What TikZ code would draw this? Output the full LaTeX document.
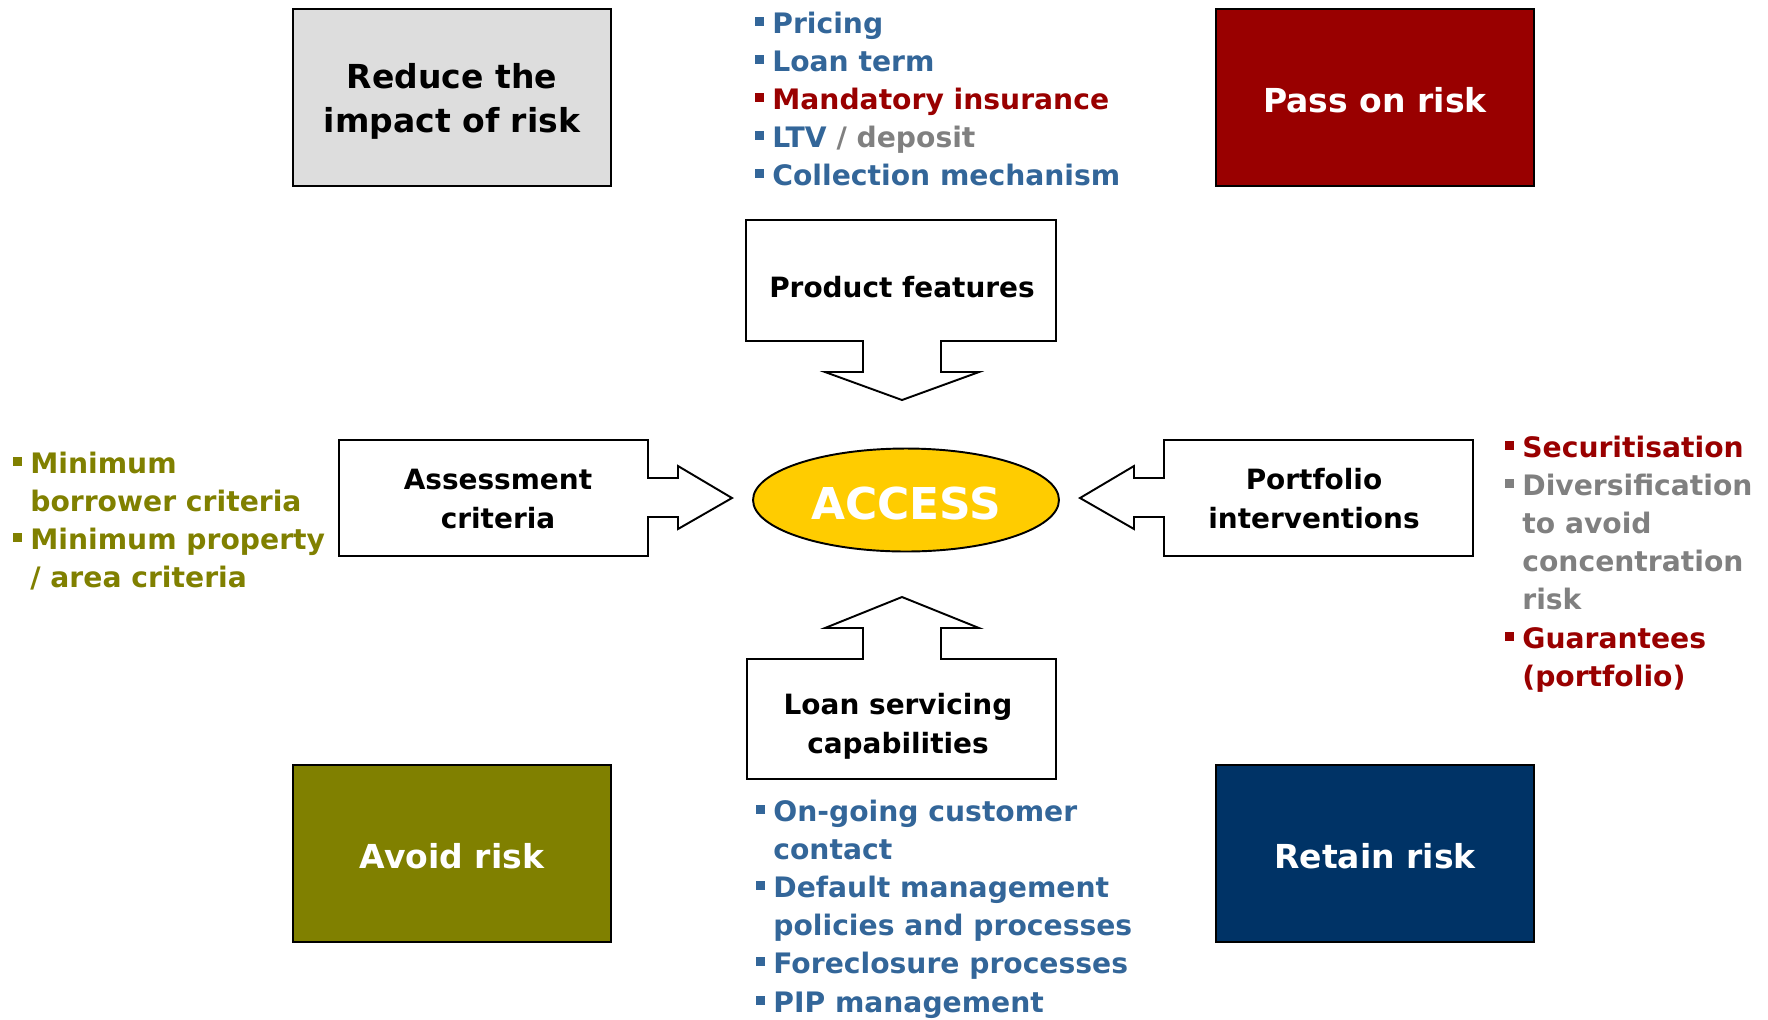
\documentclass[tikz,border=0pt]{standalone}
\usepackage{fontspec}
\setmainfont{DejaVu Sans}
\usetikzlibrary{shapes.geometric}
\definecolor{txtblue}{RGB}{51,102,153}
\definecolor{darkred}{RGB}{153,0,0}
\definecolor{midgray}{RGB}{128,128,128}
\definecolor{olive}{RGB}{128,128,0}
\definecolor{navy}{RGB}{0,51,102}
\definecolor{lightgray}{RGB}{221,221,221}
\definecolor{gold}{RGB}{255,204,0}
% square bullet, then the item text
\newcommand{\itm}[1]{\makebox[0.34cm][l]{\textcolor{#1}{\rule[0.15cm]{0.18cm}{0.18cm}}}}
\newcommand{\cnt}{\hspace*{0.34cm}}
\newcommand{\listfont}{\fontsize{16.05pt}{21.75pt}\selectfont\bfseries}
\newcommand{\boxfont}{\fontsize{15.9pt}{22.3pt}\selectfont\bfseries}
\newcommand{\bigfont}{\fontsize{18.8pt}{25.6pt}\selectfont\bfseries}
\tikzset{
  riskbox/.style={draw=black, line width=0.9pt},
  callout/.style={draw=black, line width=1.1pt, fill=white, line join=miter},
  boxlabel/.style={anchor=base, inner sep=0pt, font=\boxfont},
  biglabel/.style={anchor=base, inner sep=0pt, font=\bigfont},
  bullets/.style={anchor=base west, inner sep=0pt, font=\listfont},
}
\begin{document}
\begin{tikzpicture}[x=0.02cm, y=-0.02cm]
\useasboundingbox (0,0) rectangle (1768,1019);

% four corner strategies
\draw[riskbox, fill=lightgray] (293,9) rectangle (611,186);
\node[biglabel] (reduce) at (452,88) {\parbox[t]{6cm}{\centering Reduce the\\impact of risk}};
\draw[riskbox, fill=darkred] (1216,9) rectangle (1534,186);
\node[biglabel, text=white] (passon) at (1375,112) {Pass on risk};
\draw[riskbox, fill=olive] (293,765) rectangle (611,942);
\node[biglabel, text=white] (avoid) at (452,868) {Avoid risk};
\draw[riskbox, fill=navy] (1216,765) rectangle (1534,942);
\node[biglabel, text=white] (retain) at (1375,868) {Retain risk};

% centre
\node[ellipse, draw=black, line width=1.1pt, fill=gold, minimum width=6.12cm,
      minimum height=2.06cm, inner sep=0pt] (access) at (906,500) {};
\node[anchor=base, inner sep=0pt, text=white, font=\fontsize{25pt}{30pt}\selectfont\bfseries]
  (accesslbl) at (906,519) {ACCESS};

% product features, pointing down
\draw[callout] (746,220) -- (1056,220) -- (1056,341) -- (941,341) -- (941,372) -- (979,372)
  -- (902,400) -- (825,372) -- (863,372) -- (863,341) -- (746,341) -- cycle;
\node[boxlabel] (product) at (902,297) {Product features};

% loan servicing, pointing up
\draw[callout] (747,659) -- (863,659) -- (863,628) -- (825,628) -- (902,597) -- (979,628)
  -- (941,628) -- (941,659) -- (1056,659) -- (1056,779) -- (747,779) -- cycle;
\node[boxlabel] (servicing) at (898,714) {\parbox[t]{6cm}{\centering Loan servicing\\capabilities}};

% assessment criteria, pointing right
\draw[callout] (339,440) -- (648,440) -- (648,478) -- (678,478) -- (678,466) -- (732,498)
  -- (678,529) -- (678,517) -- (648,517) -- (648,556) -- (339,556) -- cycle;
\node[boxlabel] (assess) at (498,489) {\parbox[t]{6cm}{\centering Assessment\\criteria}};

% portfolio interventions, pointing left
\draw[callout] (1473,440) -- (1164,440) -- (1164,478) -- (1134,478) -- (1134,466) -- (1080,498)
  -- (1134,529) -- (1134,517) -- (1164,517) -- (1164,556) -- (1473,556) -- cycle;
\node[boxlabel] (portfolio) at (1314,489) {\parbox[t]{6cm}{\centering Portfolio\\interventions}};

% bullet lists
\node[bullets] (prodlist) at (755,33) {\parbox[t]{10cm}{\raggedright
  \itm{txtblue}\textcolor{txtblue}{Pricing}\\
  \itm{txtblue}\textcolor{txtblue}{Loan term}\\
  \itm{darkred}\textcolor{darkred}{Mandatory insurance}\\
  \itm{txtblue}\textcolor{txtblue}{LTV} \textcolor{midgray}{/ deposit}\\
  \itm{txtblue}\textcolor{txtblue}{Collection mechanism}}};

\node[bullets, text=olive] (assesslist) at (13,473) {\parbox[t]{8cm}{\raggedright
  \itm{olive}Minimum\\
  \cnt borrower criteria\\
  \itm{olive}Minimum property\\
  \cnt / area criteria}};

\node[bullets] (portlist) at (1505,457) {\parbox[t]{6cm}{\raggedright
  \itm{darkred}\textcolor{darkred}{Securitisation}\\
  \itm{midgray}\textcolor{midgray}{Diversification}\\
  \cnt\textcolor{midgray}{to avoid}\\
  \cnt\textcolor{midgray}{concentration}\\
  \cnt\textcolor{midgray}{risk}\\
  \itm{darkred}\textcolor{darkred}{Guarantees}\\
  \cnt\textcolor{darkred}{(portfolio)}}};

\node[bullets, text=txtblue] (servlist) at (756,821) {\parbox[t]{10cm}{\raggedright
  \itm{txtblue}On-going customer\\
  \cnt contact\\
  \itm{txtblue}Default management\\
  \cnt policies and processes\\
  \itm{txtblue}Foreclosure processes\\
  \itm{txtblue}PIP management}};
\end{tikzpicture}
\end{document}
